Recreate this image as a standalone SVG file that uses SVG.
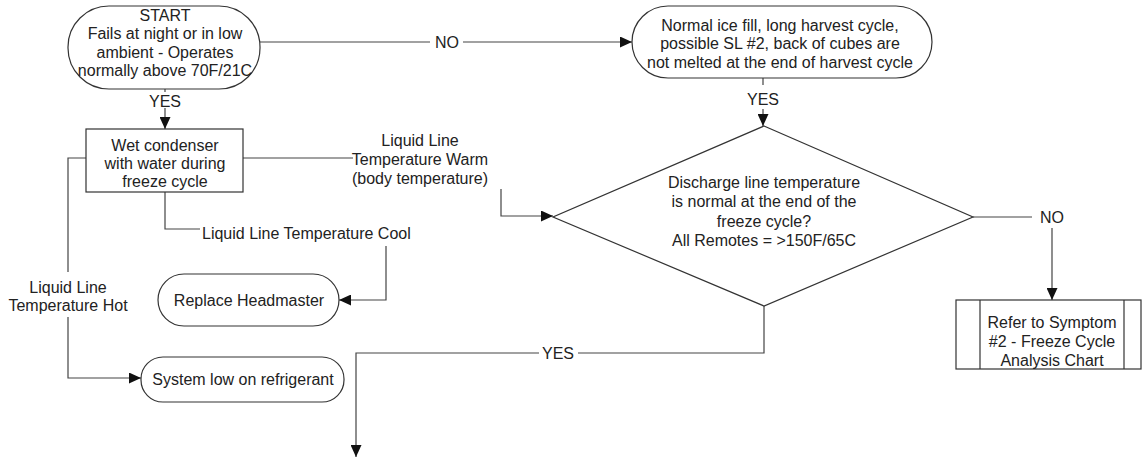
<svg xmlns="http://www.w3.org/2000/svg" width="1142" height="458" viewBox="0 0 1142 458">
<style>
  .shape { fill: #ffffff; stroke: #333333; stroke-width: 1.2; }
  .conn { fill: none; stroke: #444444; stroke-width: 1.2; }
  text { font-family: "Liberation Sans", Arial, sans-serif; font-size: 16px; fill: #222222; text-anchor: middle; }
</style>
<defs>
  <marker id="arrow" markerUnits="userSpaceOnUse" markerWidth="12" markerHeight="11" refX="12" refY="5.5" orient="auto">
    <path d="M0,0 L12,5.5 L0,11 z" fill="#111111"/>
  </marker>
</defs>
<rect width="1142" height="458" fill="#ffffff"/>

<g id="connectors">
  <path class="conn" d="M165,89 L165,92"/>
  <path class="conn" d="M165,108 L165,129" marker-end="url(#arrow)"/>
  <path class="conn" d="M260,42 L430,42"/>
  <path class="conn" d="M463,42 L632,42" marker-end="url(#arrow)"/>
  <path class="conn" d="M763,78 L763,85"/>
  <path class="conn" d="M763,109 L763,126" marker-end="url(#arrow)"/>
  <path class="conn" d="M243,158 L353,158"/>
  <path class="conn" d="M501,189 L501,216 L553,216" marker-end="url(#arrow)"/>
  <path class="conn" d="M165,192 L165,229 L200,229"/>
  <path class="conn" d="M386,246 L386,300 L339,300" marker-end="url(#arrow)"/>
  <path class="conn" d="M86,158 L68,158 L68,272"/>
  <path class="conn" d="M68,317 L68,378 L141,378" marker-end="url(#arrow)"/>
  <path class="conn" d="M973,217 L1032,217"/>
  <path class="conn" d="M1052,228 L1052,300" marker-end="url(#arrow)"/>
  <path class="conn" d="M764,306 L764,353 L578,353"/>
  <path class="conn" d="M539,353 L356,353 L356,457" marker-end="url(#arrow)"/>
  <text x="447" y="48">NO</text>
  <text x="165" y="107">YES</text>
  <text x="763" y="105">YES</text>
  <text x="420" y="146">Liquid Line</text>
  <text x="420" y="165">Temperature Warm</text>
  <text x="420" y="184">(body temperature)</text>
  <text x="202" y="239" style="text-anchor:start">Liquid Line Temperature Cool</text>
  <text x="68" y="293">Liquid Line</text>
  <text x="68" y="311">Temperature Hot</text>
  <text x="1052" y="223">NO</text>
  <text x="558" y="359">YES</text>
</g>

<g id="start">
  <rect class="shape" x="68" y="6" width="192" height="83" rx="41" ry="41"/>
  <text x="165" y="21">START</text>
  <text x="165" y="39">Fails at night or in low</text>
  <text x="165" y="58">ambient - Operates</text>
  <text x="165" y="76">normally above 70F/21C</text>
</g>

<g id="normal-ice-fill">
  <rect class="shape" x="632" y="6" width="300" height="72" rx="36" ry="36"/>
  <text x="780" y="31">Normal ice fill, long harvest cycle,</text>
  <text x="780" y="49">possible SL #2, back of cubes are</text>
  <text x="780" y="68">not melted at the end of harvest cycle</text>
</g>

<g id="wet-condenser">
  <rect class="shape" x="86" y="129" width="157" height="63"/>
  <text x="165" y="151">Wet condenser</text>
  <text x="165" y="169">with water during</text>
  <text x="165" y="187">freeze cycle</text>
</g>

<g id="discharge-decision">
  <polygon class="shape" points="764,126 973,217 764,306 553,217"/>
  <text x="764" y="188">Discharge line temperature</text>
  <text x="764" y="207">is normal at the end of the</text>
  <text x="764" y="227">freeze cycle?</text>
  <text x="764" y="246">All Remotes = &gt;150F/65C</text>
</g>

<g id="replace-headmaster">
  <rect class="shape" x="158" y="274" width="181" height="52" rx="26" ry="26"/>
  <text x="249" y="306">Replace Headmaster</text>
</g>

<g id="system-low">
  <rect class="shape" x="141" y="357" width="203" height="45" rx="22" ry="22"/>
  <text x="243" y="385">System low on refrigerant</text>
</g>

<g id="refer-symptom">
  <rect class="shape" x="956" y="300" width="185" height="69"/>
  <line class="shape" x1="980" y1="300" x2="980" y2="369"/>
  <line class="shape" x1="1124" y1="300" x2="1124" y2="369"/>
  <text x="1052" y="328">Refer to Symptom</text>
  <text x="1052" y="347">#2 - Freeze Cycle</text>
  <text x="1052" y="366">Analysis Chart</text>
</g>
</svg>
